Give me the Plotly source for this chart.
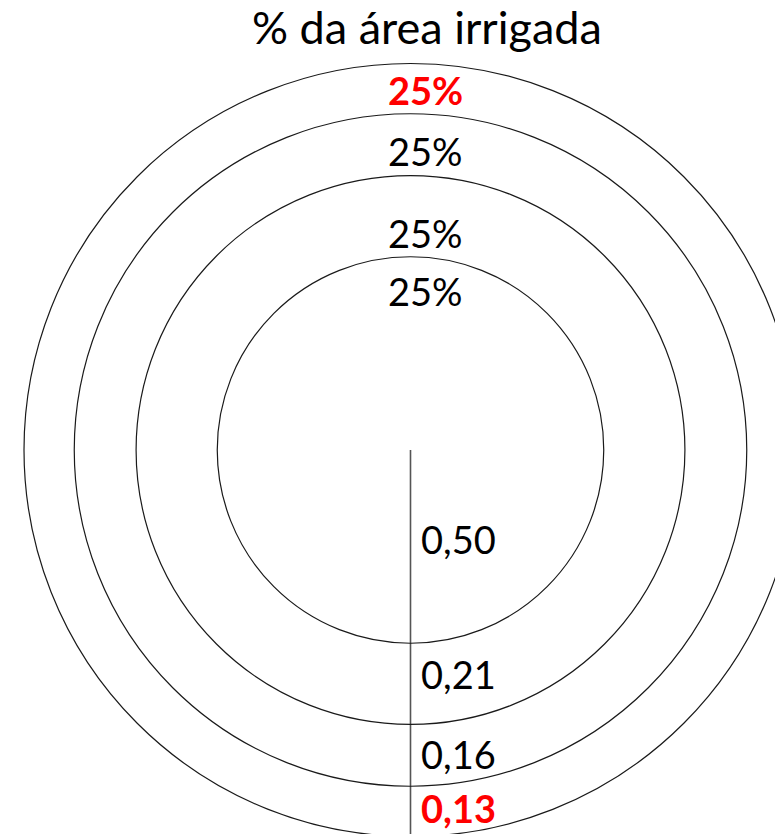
import numpy as np
import plotly.graph_objects as go

# ---- data ----
title_text = "% da área irrigada"
area_share = [25, 25, 25, 25]            # % of irrigated area per ring (inner -> outer)
ring_width = [0.50, 0.21, 0.16, 0.13]    # radial width of each ring (inner -> outer)
highlight = [False, False, False, True]  # outer ring highlighted in red

radii = np.cumsum(ring_width)

# ---- layout constants (page pixel geometry; the page body has an 8px margin) ----
PAGE_OFF = 8
W, H = 783 - PAGE_OFF, 834 - PAGE_OFF
cx_px, cy_px, scale = 410.5, 450.0, 386.5 / radii[-1]   # in page pixels

def px2x(px):
    return (px - cx_px) / scale

def px2y(py):
    return (cy_px - py) / scale

fig = go.Figure()

# circles
shapes = []
for r in radii:
    shapes.append(dict(type="circle", xref="x", yref="y",
                       x0=-r, y0=-r, x1=r, y1=r,
                       line=dict(color="#1a1a1a", width=1.2)))

# vertical line from centre downwards
fig.add_trace(go.Scatter(x=[0, 0], y=[0, -radii[-1] * 1.2], mode="lines",
                         line=dict(color="#555555", width=1.6),
                         hoverinfo="skip", showlegend=False))

annotations = []
# title
annotations.append(dict(x=px2x(427), y=px2y(27), xref="x", yref="y",
                        text=title_text, showarrow=False,
                        font=dict(family="Lato", size=45, color="black"),
                        xanchor="center", yanchor="middle"))

# share labels: vertical pixel centres (inner -> outer)
share_label_py = [291, 233, 151, 90]
for s, py, hl in zip(area_share, share_label_py, highlight):
    txt = f"<b>{s}%</b>" if hl else f"{s}%"
    annotations.append(dict(x=px2x(425), y=px2y(py), xref="x", yref="y",
                            text=txt, showarrow=False,
                            font=dict(family="Lato", size=38,
                                      color="red" if hl else "black"),
                            xanchor="center", yanchor="middle"))

# width labels along the vertical line
width_label_py = [539, 674, 754, 808]
for w, py, hl in zip(ring_width, width_label_py, highlight):
    s = f"{w:.2f}".replace(".", ",")
    txt = f"<b>{s}</b>" if hl else s
    annotations.append(dict(x=px2x(419), y=px2y(py), xref="x", yref="y",
                            text=txt, showarrow=False,
                            font=dict(family="Lato", size=38,
                                      color="red" if hl else "black"),
                            xanchor="left", yanchor="middle"))

fig.update_layout(
    width=W, height=H,
    margin=dict(l=0, r=0, t=0, b=0),
    paper_bgcolor="white", plot_bgcolor="white",
    shapes=shapes, annotations=annotations,
    xaxis=dict(range=[px2x(PAGE_OFF), px2x(PAGE_OFF + W)], visible=False, fixedrange=True),
    yaxis=dict(range=[px2y(PAGE_OFF + H), px2y(PAGE_OFF)], visible=False, fixedrange=True),
    showlegend=False,
)

fig.write_html("out.html")
